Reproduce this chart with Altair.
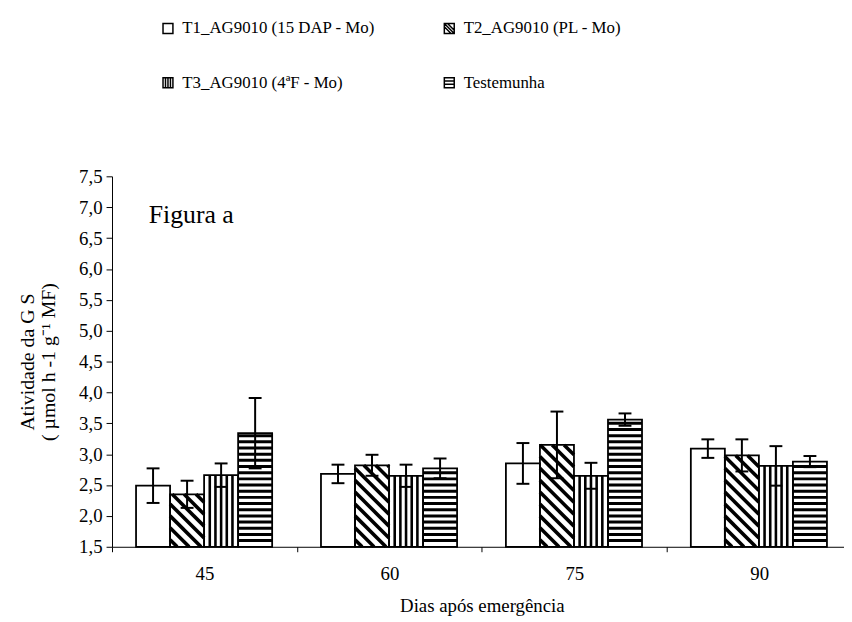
import json
import altair as alt
import pandas as pd

# ---------------- data ----------------
dias = ["45", "60", "75", "90"]
tratamentos = [
    "T1_AG9010 (15 DAP - Mo)",
    "T2_AG9010 (PL - Mo)",
    "T3_AG9010 (4ªF - Mo)",
    "Testemunha",
]
t1_media = [2.49, 2.68, 2.85, 3.09]
t1_erro = [0.28, 0.15, 0.33, 0.15]
t2_media = [2.35, 2.82, 3.15, 2.98]
t2_erro = [0.22, 0.17, 0.54, 0.26]
t3_media = [2.66, 2.65, 2.65, 2.81]
t3_erro = [0.19, 0.18, 0.21, 0.32]
test_media = [3.34, 2.77, 3.56, 2.88]
test_erro = [0.57, 0.16, 0.10, 0.09]
y_ticks = [1.5, 2.0, 2.5, 3.0, 3.5, 4.0, 4.5, 5.0, 5.5, 6.0, 6.5, 7.0, 7.5]
titulo_x = "Dias após emergência"
titulo_y = ["Atividade da G S", "( µmol h -1 g⁻¹ MF)"]
anotacao = "Figura a"

medias = [t1_media, t2_media, t3_media, test_media]
erros = [t1_erro, t2_erro, t3_erro, test_erro]

# ---------------- layout / style ----------------
FONT = "Liberation Serif"
W, H = 739, 374
Y_MIN, Y_MAX = y_ticks[0], y_ticks[-1]
STEP_PX = 186.7
X_MAX = W / STEP_PX
PAD = 0.13
BW = 0.184
PX_X = STEP_PX
PX_Y = H / (Y_MAX - Y_MIN)
CAP = 6.5 / PX_X

rows = []
for s, trat in enumerate(tratamentos):
    for g, dia in enumerate(dias):
        rows.append({"dia": dia, "trat": trat, "g": g, "s": s,
                     "media": medias[s][g], "erro": erros[s][g]})
df = pd.DataFrame(rows)

# hatch stripes (derived from the bar values)
stripe_rows = []
for g in range(len(dias)):
    # T2: diagonal "\" stripes
    x0 = g + PAD + 1 * BW
    w = BW * PX_X
    h = (t2_media[g] - Y_MIN) * PX_Y
    step = 12.0
    c = step * 0.6
    while c < w + h:
        xs = max(0.0, c - h)
        xe = min(w, c)
        if xe - xs > 1:
            stripe_rows.append(dict(xa=x0 + xs / PX_X, ya=Y_MIN + (c - xs) / PX_Y,
                                    xb=x0 + xe / PX_X, yb=Y_MIN + (c - xe) / PX_Y, sw=3.6))
        c += step
    # T3: vertical stripes
    x0 = g + PAD + 2 * BW
    for k in range(1, 6):
        xv = x0 + k * BW / 6
        stripe_rows.append(dict(xa=xv, ya=Y_MIN, xb=xv, yb=t3_media[g], sw=2.6))
    # Testemunha: horizontal stripes
    x0 = g + PAD + 3 * BW
    k = 1
    while Y_MIN + k * 0.1 < test_media[g] - 0.03:
        yv = Y_MIN + k * 0.1
        stripe_rows.append(dict(xa=x0, ya=yv, xb=x0 + BW, yb=yv, sw=3.0))
        k += 1
stripes_df = pd.DataFrame(stripe_rows)

xscale = alt.Scale(domain=[0, X_MAX], nice=False, zero=False)
yscale = alt.Scale(domain=[Y_MIN, Y_MAX], nice=False, zero=False)

base = alt.Chart(df).transform_calculate(
    x0=f"datum.g + {PAD} + datum.s * {BW}",
    x1=f"datum.g + {PAD} + (datum.s + 1) * {BW}",
    xc=f"datum.g + {PAD} + (datum.s + 0.5) * {BW}",
    xl=f"datum.g + {PAD} + (datum.s + 0.5) * {BW} - {CAP}",
    xr=f"datum.g + {PAD} + (datum.s + 0.5) * {BW} + {CAP}",
    lo="datum.media - datum.erro",
    hi="datum.media + datum.erro",
    base=f"{Y_MIN}",
)

x_axis = alt.Axis(
    values=[0, 1, 2, 3],
    labelExpr=f"{json.dumps(dias)}[datum.value]",
    labelOffset=STEP_PX / 2,
    labelFlush=False,
    labelOverlap=False,
    labelBound=False,
    tickSize=5,
    labelPadding=13,
    grid=False,
    title=titulo_x,
    titleX=(STEP_PX * 4) / 2,
    titlePadding=13,
    labelFontSize=19,
    titleFontSize=19,
)
y_axis = alt.Axis(
    values=y_ticks,
    labelExpr="replace(format(datum.value, '.1f'), '.', ',')",
    tickSize=6,
    labelPadding=4,
    grid=False,
    title=titulo_y,
    titleFontSize=20,
    titleLineHeight=21,
    titlePadding=20,
    labelFontSize=19,
)

bars_fill = base.mark_bar(color="white").encode(
    x=alt.X("x0:Q", scale=xscale, axis=x_axis),
    x2="x1:Q",
    y=alt.Y("media:Q", scale=yscale, axis=y_axis),
    y2="base:Q",
)

stripes = alt.Chart(stripes_df).mark_rule(color="black", strokeCap="butt").encode(
    x=alt.X("xa:Q", scale=xscale, axis=x_axis),
    x2="xb:Q",
    y=alt.Y("ya:Q", scale=yscale, axis=y_axis),
    y2="yb:Q",
    strokeWidth=alt.StrokeWidth("sw:Q", scale=None),
)

bars_outline = base.mark_bar(fillOpacity=0, stroke="black", strokeWidth=1.8).encode(
    x=alt.X("x0:Q", scale=xscale, axis=x_axis),
    x2="x1:Q",
    y=alt.Y("media:Q", scale=yscale, axis=y_axis),
    y2="base:Q",
)

err_rule = base.mark_rule(color="black", strokeWidth=2).encode(
    x=alt.X("xc:Q", scale=xscale, axis=x_axis),
    y=alt.Y("lo:Q", scale=yscale, axis=y_axis),
    y2="hi:Q",
)
cap_hi = base.mark_rule(color="black", strokeWidth=2).encode(
    x=alt.X("xl:Q", scale=xscale, axis=x_axis),
    x2="xr:Q",
    y=alt.Y("hi:Q", scale=yscale, axis=y_axis),
)
cap_lo = base.mark_rule(color="black", strokeWidth=2).encode(
    x=alt.X("xl:Q", scale=xscale, axis=x_axis),
    x2="xr:Q",
    y=alt.Y("lo:Q", scale=yscale, axis=y_axis),
)

symbol_paths = [
    "M-1,-1H1V1H-1Z",
    "M-1,-1H1V1H-1Z M-1,-0.35L0.35,1 M-1,-1L1,1 M-0.35,-1L1,0.35",
    "M-1,-1H1V1H-1Z M-0.5,-1V1 M0,-1V1 M0.5,-1V1",
    "M-1,-1H1V1H-1Z M-1,-0.33H1 M-1,0.33H1",
]

legend_pts = base.mark_point(opacity=0).encode(
    x=alt.X("xc:Q", scale=xscale, axis=x_axis),
    y=alt.Y("media:Q", scale=yscale, axis=y_axis),
    shape=alt.Shape(
        "trat:N",
        scale=alt.Scale(domain=tratamentos, range=symbol_paths),
        legend=alt.Legend(
            title=None,
            orient="none",
            legendX=48,
            legendY=-158,
            direction="horizontal",
            columns=2,
            columnPadding=66,
            rowPadding=37,
            symbolSize=100,
            symbolStrokeColor="black",
            symbolFillColor="white",
            symbolStrokeWidth=1.5,
            symbolOpacity=1,
            labelFont=FONT,
            labelFontSize=17,
            labelColor="black",
            labelLimit=400,
            labelOffset=6,
        ),
    ),
)

fig_text = alt.Chart(pd.DataFrame({"t": [anotacao]})).mark_text(
    align="left", baseline="alphabetic", font=FONT, fontSize=26, color="black"
).encode(text="t:N", x=alt.value(37), y=alt.value(47))

chart = alt.layer(
    bars_fill, stripes, bars_outline, err_rule, cap_hi, cap_lo, legend_pts, fig_text
).properties(
    width=W,
    height=H,
    padding={"left": 105, "top": 167, "right": 0, "bottom": 73},
    autosize=alt.AutoSizeParams(type="none"),
    background="white",
).configure_view(
    strokeWidth=0
).configure_axis(
    domainColor="black",
    tickColor="black",
    labelColor="black",
    titleColor="black",
    labelFont=FONT,
    titleFont=FONT,
    titleFontWeight="normal",
    domainWidth=1,
    tickWidth=1,
)

chart.save("out.html", embed_options={"renderer": "svg", "actions": False})
